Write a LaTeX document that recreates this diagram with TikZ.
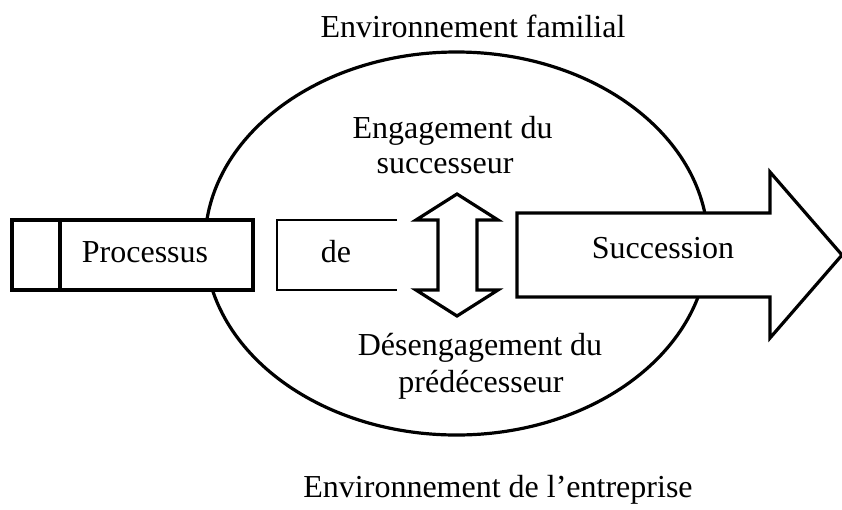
\documentclass[tikz,border=0pt]{standalone}
\usepackage{fontspec}
\setmainfont{Liberation Serif}
\begin{document}
\begin{tikzpicture}[x=1pt,y=-1pt,
  lbl/.style={font=\fontsize{32}{37}\selectfont, inner sep=0pt, anchor=base},
  thick line/.style={line width=3.2pt, line join=miter},
  thin line/.style={line width=2pt}]
\useasboundingbox (0,0) rectangle (842,509);
% ellipse
\draw[thick line] (456.5,243.5) ellipse [x radius=251.5, y radius=191.5];
% Processus box
\draw[thick line, fill=white] (12,220) rectangle (253,290);
\draw[thick line] (60,220) -- (60,290);
% de box (open on right)
\draw[thin line, fill=white] (397,220) -- (277,220) -- (277,290) -- (397,290);
% double arrow
\draw[thick line, fill=white] (457,194) -- (498,220) -- (477,220) -- (477,290) -- (498,290)
  -- (457,316) -- (416,290) -- (438,290) -- (438,220) -- (416,220) -- cycle;
% Succession arrow
\draw[thick line, fill=white] (517,213) -- (770,213) -- (770,172) -- (842,255) -- (770,338)
  -- (770,297) -- (517,297) -- cycle;
% labels
\node[lbl] (fam) at (473,37) {Environnement familial};
\node[lbl] (eng1) at (452.5,138) {Engagement du};
\node[lbl] (eng2) at (445,173) {successeur};
\node[lbl] (des1) at (480,355) {Désengagement du};
\node[lbl] (des2) at (481,392) {prédécesseur};
\node[lbl] (ent) at (498,497) {Environnement de l’entreprise};
\node[lbl] (proc) at (145,262) {Processus};
\node[lbl] (de) at (336,262) {de};
\node[lbl] (succ) at (663,258) {Succession};
\end{tikzpicture}
\end{document}
